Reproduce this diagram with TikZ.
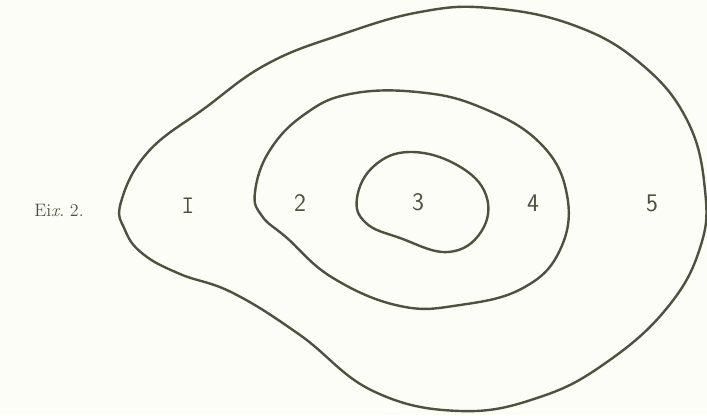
\documentclass[tikz,border=0pt]{standalone}
\usepackage{tikz}
\usetikzlibrary{backgrounds}
\definecolor{mapink}{HTML}{4E5040}
\definecolor{mappaper}{HTML}{FDFDF8}

\begin{document}
\begin{tikzpicture}[x=0.75pt,y=-0.75pt, every node/.style={text=mapink}]
\tikzset{contour/.style={draw=mapink,line width=1.8pt,line join=round}, zone/.style={font=\sffamily\fontsize{19}{19}\selectfont}, caption/.style={font=\fontsize{13.5}{13.5}\selectfont}}
\fill[mappaper] (0,0) rectangle (707,415);
\useasboundingbox (0,0) rectangle (707,415);
% outer ring
\draw[contour] plot[smooth cycle,tension=0.7] coordinates {(121,202) (148,152) (205,108) (267,64) (340,35) (420,12) (490,8) (573,25) (640,63) (687,120) (705,190) (700,248) (667,308) (607,362) (540,397) (460,411) (373,391) (300,335) (233,293) (180,274) (143,254) (125,230)};
% middle ring
\draw[contour] plot[smooth cycle,tension=0.7] coordinates {(255,192) (270,150) (305,114) (350,94) (417,92) (480,107) (540,143) (567,195) (560,250) (523,288) (460,305) (400,306) (333,278) (287,238) (262,216)};
% inner ring
\draw[contour] plot[smooth cycle,tension=0.7] coordinates {(357,198) (374,166) (410,152) (457,165) (486,195) (481,232) (448,252) (400,238) (366,223)};
\node[caption] (fig) at (59,210) {Ei\textit{x}.\ 2.};
\node[zone] (z1) at (188,206) {\ttfamily I};
\node[zone] (z2) at (300,203) {2};
\node[zone] (z3) at (418,202) {3};
\node[zone] (z4) at (533,203) {4};
\node[zone] (z5) at (652,203) {5};
\end{tikzpicture}
\end{document}
